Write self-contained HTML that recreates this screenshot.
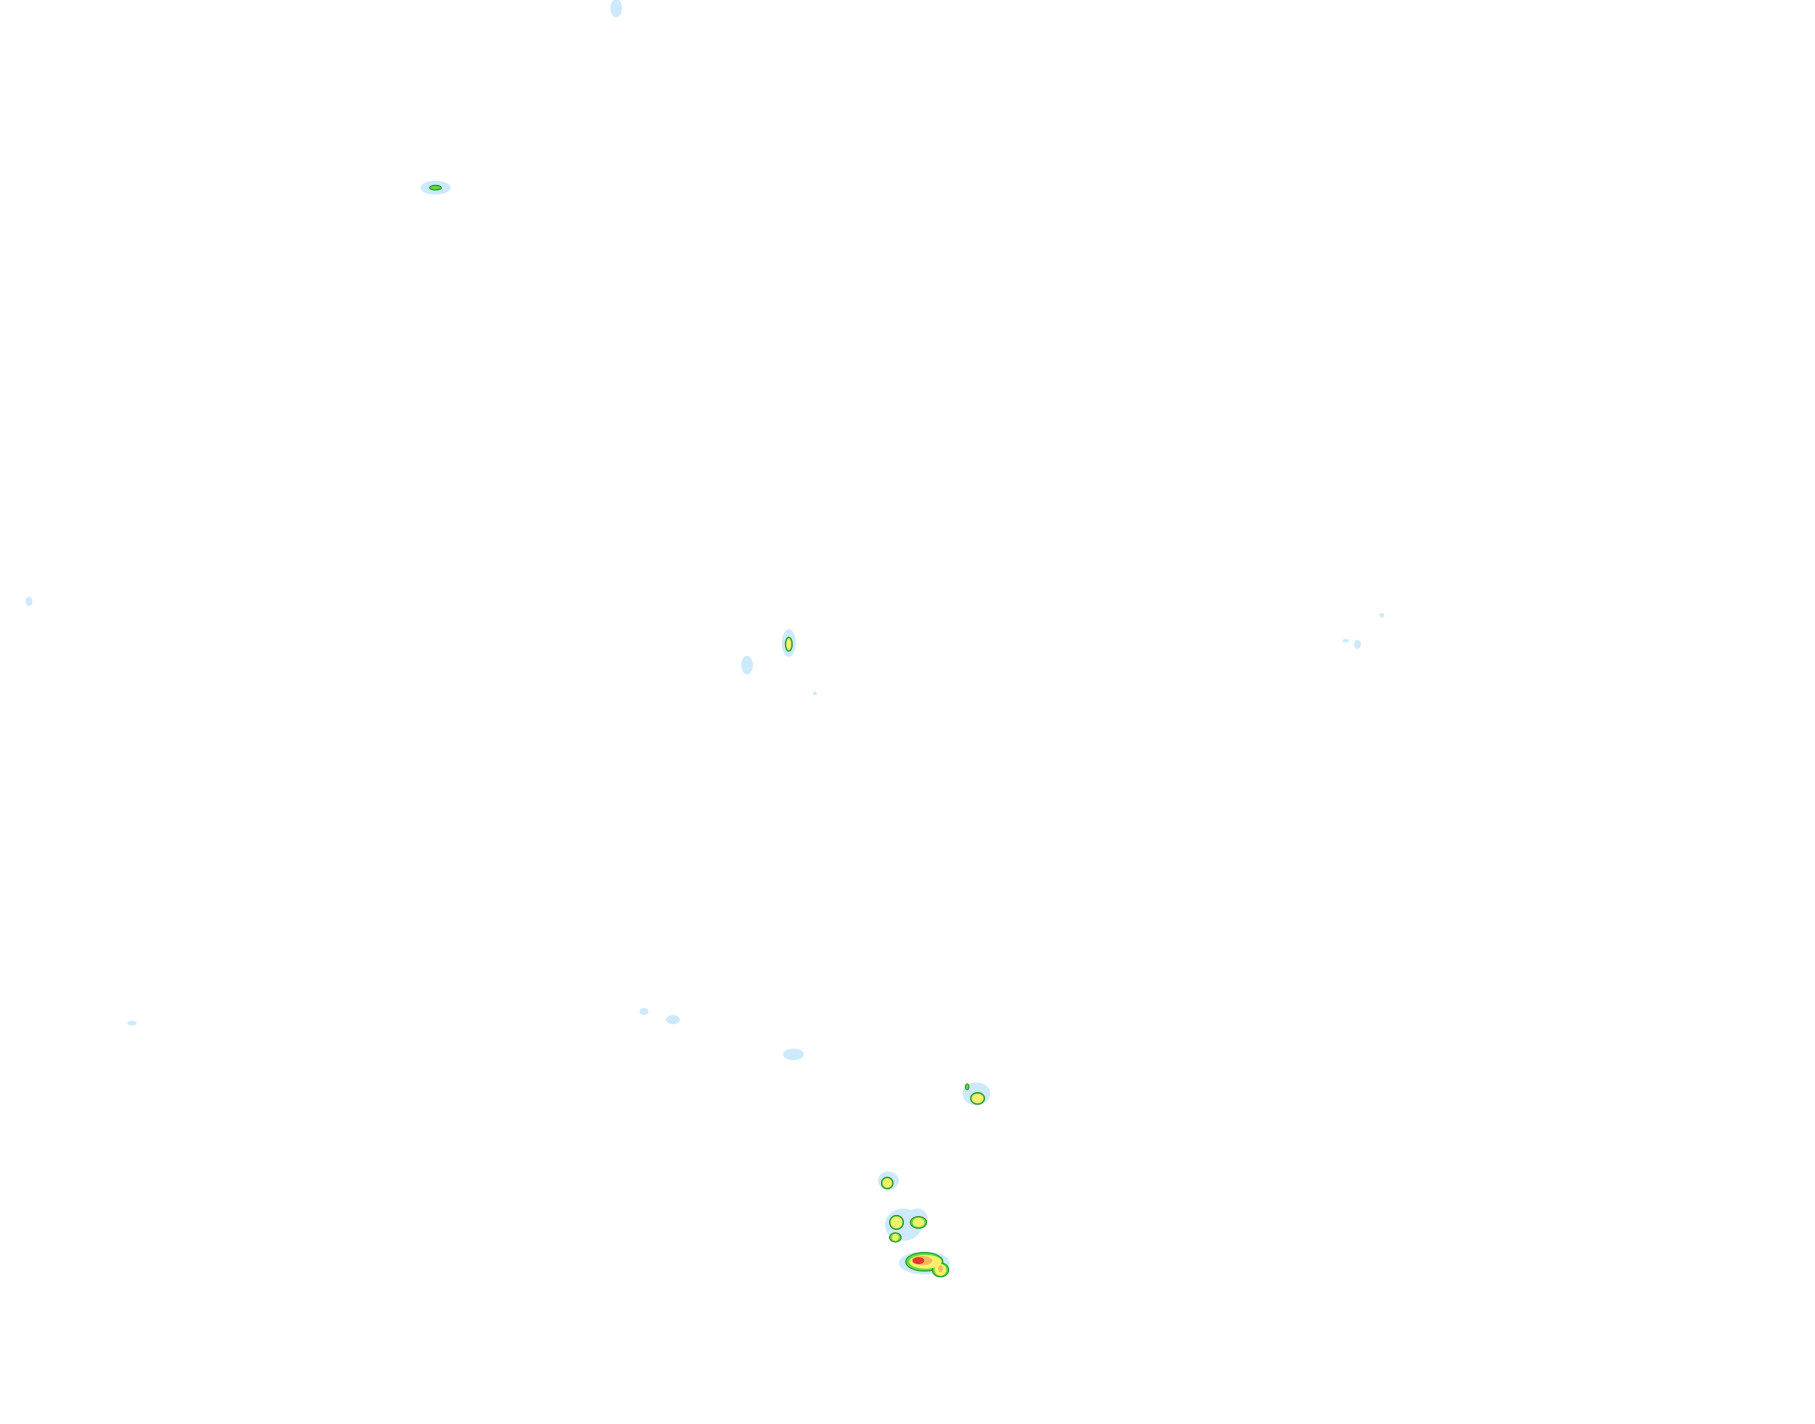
<!DOCTYPE html>
<html><head><style>html,body{margin:0;padding:0;background:#fff;}svg{display:block}</style></head>
<body>
<svg width="1815" height="1424" viewBox="0 0 1567 1229" preserveAspectRatio="none" xmlns="http://www.w3.org/2000/svg">
<rect width="1567" height="1229" fill="#fff"/>
<g fill="#cdeafc">
<ellipse cx="532" cy="7" rx="5" ry="8"/>
<ellipse cx="376" cy="162" rx="13" ry="6"/>
<ellipse cx="25" cy="519" rx="3" ry="4"/>
<ellipse cx="681" cy="555" rx="6" ry="12"/>
<ellipse cx="645" cy="574" rx="5" ry="8"/>
<rect x="702" y="597" width="3" height="3"/>
<ellipse cx="1193" cy="531" rx="2" ry="2"/>
<ellipse cx="1162" cy="553" rx="3" ry="1.5"/>
<ellipse cx="1172" cy="556" rx="3" ry="4"/>
<ellipse cx="114" cy="883" rx="4" ry="2"/>
<ellipse cx="556" cy="873" rx="4" ry="3"/>
<ellipse cx="581" cy="880" rx="6" ry="4"/>
<ellipse cx="685" cy="910" rx="9" ry="5"/>
<ellipse cx="843" cy="944" rx="12" ry="10"/>
<ellipse cx="767" cy="1019" rx="9" ry="8"/>
<ellipse cx="780" cy="1057" rx="16" ry="14"/>
<ellipse cx="792" cy="1052" rx="9" ry="9"/>
<ellipse cx="798" cy="1090" rx="22" ry="10"/>
</g>
<g fill="#5fdc3c" stroke="#2c9a2a" stroke-width="1">
<ellipse cx="376" cy="162" rx="5" ry="2"/>
<ellipse cx="681" cy="556" rx="3" ry="6"/>
<ellipse cx="844" cy="948" rx="6" ry="5"/>
<ellipse cx="835" cy="938" rx="1.5" ry="2.5"/>
<ellipse cx="766" cy="1021" rx="5" ry="5"/>
<ellipse cx="774" cy="1055" rx="6" ry="6"/>
<ellipse cx="793" cy="1055" rx="7" ry="5"/>
<ellipse cx="773" cy="1068" rx="5" ry="4"/>
<ellipse cx="798" cy="1089" rx="16" ry="8"/>
<ellipse cx="812" cy="1096" rx="7" ry="6"/>
</g>
<g fill="#fbef6e">
<ellipse cx="681" cy="556" rx="2" ry="5"/>
<ellipse cx="844" cy="948" rx="5" ry="4"/>
<ellipse cx="766" cy="1021" rx="4" ry="4"/>
<ellipse cx="774" cy="1055" rx="5" ry="5"/>
<ellipse cx="793" cy="1055" rx="5" ry="4"/>
<ellipse cx="773" cy="1068" rx="3" ry="3"/>
<ellipse cx="799" cy="1089" rx="14" ry="6"/>
<ellipse cx="812" cy="1096" rx="5" ry="5"/>
</g>
<g fill="#f4b95a">
<ellipse cx="796" cy="1088" rx="9" ry="4"/>
<ellipse cx="812" cy="1095" rx="2" ry="3"/>
</g>
<ellipse cx="793" cy="1088" rx="5" ry="3" fill="#e23a2a"/>
</svg>
</body></html>
